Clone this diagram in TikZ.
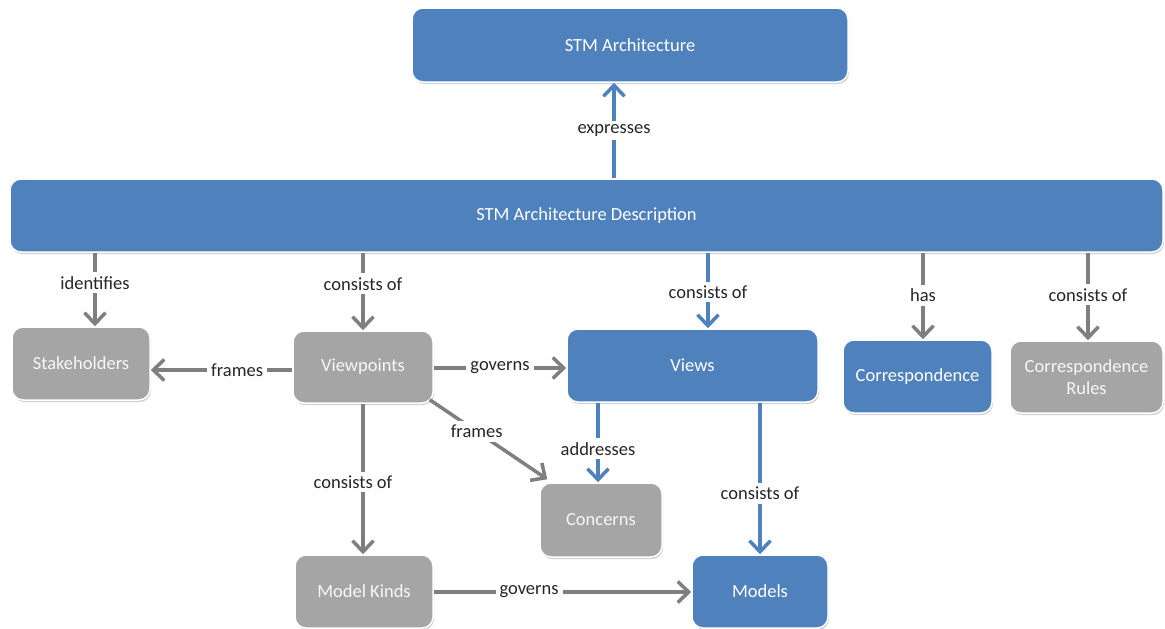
\documentclass[tikz,border=0pt]{standalone}
\usepackage{fontspec}
\setmainfont{Carlito}
\usetikzlibrary{arrows.meta,shadows}
\definecolor{boxblue}{HTML}{4F81BD}
\definecolor{boxgray}{HTML}{A5A5A5}
\definecolor{linegray}{HTML}{7F7F7F}
\begin{document}
\begin{tikzpicture}[x=1pt,y=-1pt,
 box/.style={rounded corners=11pt, draw=white, line width=1.5pt, text=white, font=\fontsize{18.5}{22}\selectfont, align=center, inner sep=0pt,
   drop shadow={shadow xshift=1pt,shadow yshift=-2pt,fill=black!40,opacity=.45}},
 bbox/.style={box, fill=boxblue},
 gbox/.style={box, fill=boxgray, text=white!94!gray},
 con/.style={line width=3.5pt, -{Straight Barb[length=11pt,width=21pt]}},
 gcon/.style={con, draw=linegray},
 bcon/.style={con, draw=boxblue},
 lbl/.style={fill=white, text=black!85, font=\fontsize{18.5}{22}\selectfont, inner sep=4pt}
]
\fill[white] (0,0) rectangle (1165,629);
\useasboundingbox (0,0) rectangle (1165,629);

\node[bbox, minimum width=436pt, minimum height=74pt] (arch) at (630,45) {STM Architecture};
\node[bbox, minimum width=1153pt, minimum height=73pt] (desc) at (586.5,215.5) {STM Architecture Description};
\node[gbox, minimum width=138pt, minimum height=73pt] (stake) at (81,363.5) {Stakeholders};
\node[gbox, minimum width=140pt, minimum height=72pt] (viewp) at (363,367) {Viewpoints};
\node[bbox, minimum width=251pt, minimum height=73pt] (views) at (692.5,365.5) {Views};
\node[bbox, minimum width=149pt, minimum height=73pt] (corr) at (917.5,376.5) {Correspondence};
\node[gbox, minimum width=153pt, minimum height=72pt] (corrr) at (1086.5,377) {Correspondence\\Rules};
\node[gbox, minimum width=122pt, minimum height=74pt] (concerns) at (601,520) {Concerns};
\node[gbox, minimum width=138pt, minimum height=73pt] (mkinds) at (364,591.5) {Model Kinds};
\node[bbox, minimum width=136pt, minimum height=73pt] (models) at (760,591.5) {Models};

\draw[bcon] (desc.north -| 614,0) -- node[lbl]{expresses} (arch.south -| 614,0);
\draw[gcon] (desc.south -| 95,0) -- node[lbl,pos=.41]{identifies} (stake.north -| 95,0);
\draw[gcon] (desc.south -| viewp) -- node[lbl,pos=.4]{consists of} (viewp.north);
\draw[bcon] (desc.south -| 708,0) -- node[lbl,pos=.52]{consists of} (views.north -| 708,0);
\draw[gcon] (desc.south -| 923,0) -- node[lbl,pos=.49]{has} (corr.north -| 923,0);
\draw[gcon] (desc.south -| 1088,0) -- node[lbl,pos=.48]{consists of} (corrr.north -| 1088,0);

\draw[gcon] (viewp.west |- 0,370) -- node[lbl,pos=.39]{frames} (stake.east |- 0,370);
\draw[gcon] (viewp.east |- 0,368) -- node[lbl]{governs} (views.west |- 0,368);
\draw[gcon] ([shift={(-4,-4)}]viewp.south east) -- node[lbl,pos=.4]{frames} ([shift={(8,-3)}]concerns.north west);
\draw[gcon] (viewp.south) -- node[lbl,pos=.52,xshift=-10pt]{consists of} (mkinds.north -| viewp.south);

\draw[bcon] (views.south -| 598,0) -- node[lbl,pos=.58]{addresses} (concerns.north -| 598,0);
\draw[bcon] (views.south -| models) -- node[lbl,pos=.6]{consists of} (models.north);
\draw[gcon] (mkinds.east |- 0,592) -- node[lbl,pos=.37]{governs} (models.west |- 0,592);
\end{tikzpicture}
\end{document}
